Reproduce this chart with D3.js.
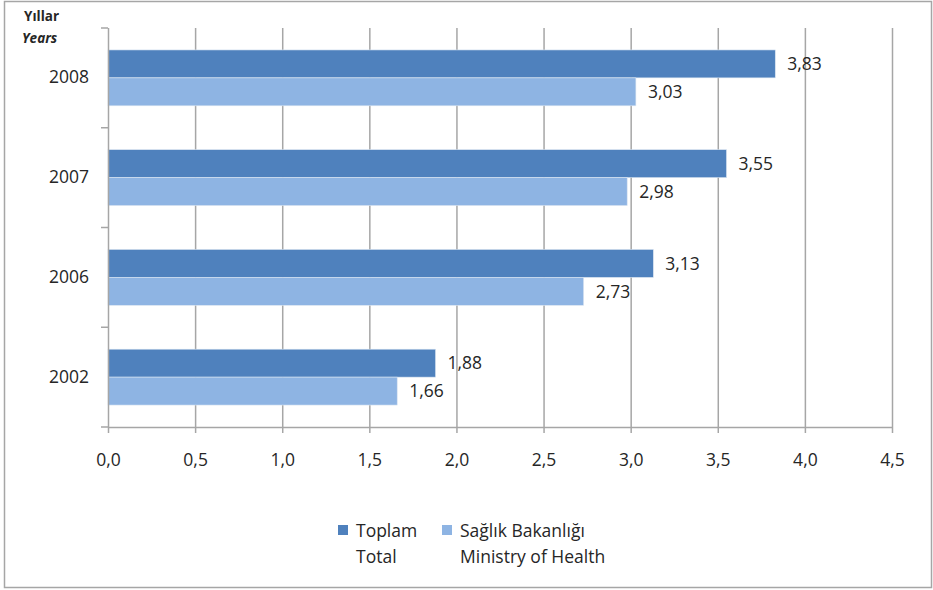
<!DOCTYPE html>
<html><head><meta charset="utf-8">
<script src="https://cdn.jsdelivr.net/npm/d3@7"></script>
<style>body{margin:0;background:#fff}text{font-family:"Open Sans",sans-serif;fill:#262626}</style>
</head><body><svg id="c" width="933" height="590"></svg>
<script>
const years = ["2008","2007","2006","2002"];
const toplam = [3.83,3.55,3.13,1.88];
const saglik = [3.03,2.98,2.73,1.66];
const xTicks = [0,0.5,1,1.5,2,2.5,3,3.5,4,4.5];
const seriesNames = [["Toplam","Total"],["Sağlık Bakanlığı","Ministry of Health"]];
const colors = ["#4f81bd","#8eb4e3"];
const FONT = "'Open Sans',sans-serif";
const FS = 17.5;

const svg = d3.select("#c");
svg.append("rect").attr("x",4.5).attr("y",1.5).attr("width",927).attr("height",586)
  .attr("fill","#fff").attr("stroke","#a6a6a6").attr("stroke-width",1.5);

const L=108,R=892,T=28,B=427;
const x = d3.scaleLinear().domain([0,4.5]).range([L,R]);
const y = d3.scaleBand().domain(years).range([T,B]);
const inner = d3.scaleBand().domain([0,1]).range([y.bandwidth()*0.22,y.bandwidth()*0.78]);
const fmt = v => d3.format(".2f")(v).replace(".",",");

// gridlines
svg.append("g").selectAll("line").data(xTicks.slice(1)).join("line")
  .attr("x1",d=>x(d)+0.5).attr("x2",d=>x(d)+0.5).attr("y1",T).attr("y2",B)
  .attr("stroke","#a6a6a6").attr("stroke-width",1.5);

// bars
const series=[toplam,saglik];
series.forEach((vals,si)=>{
  const g=svg.append("g");
  g.selectAll("rect").data(years).join("rect")
    .attr("x",x(0)).attr("y",d=>y(d)+inner(si))
    .attr("width",(d,i)=>x(vals[i])-x(0)).attr("height",inner.bandwidth())
    .attr("fill",colors[si]).attr("stroke","#dbe5f1").attr("stroke-width",0.6);
  g.selectAll("text").data(years).join("text")
    .attr("x",(d,i)=>x(vals[i])+12).attr("y",d=>y(d)+inner(si)+inner.bandwidth()/2)
    .attr("dy","0.36em").attr("font-size",FS).text((d,i)=>fmt(vals[i]));
});

// x axis
const xa = svg.append("g").attr("transform",`translate(0,${B})`)
  .call(d3.axisBottom(x).tickValues(xTicks).tickSize(6).tickPadding(21).tickFormat(d=>d3.format(".1f")(d).replace(".",",")));
xa.select(".domain").attr("stroke","#a6a6a6").attr("stroke-width",1.5).attr("d",`M${L},0.5H${R}`);
xa.selectAll("line").attr("stroke","#a6a6a6").attr("stroke-width",1.5);
xa.selectAll("text").attr("font-size",FS).attr("fill","#262626").attr("font-family",FONT);

// y axis
const ya = svg.append("g").attr("transform",`translate(${L},0)`)
  .call(d3.axisLeft(y).tickSize(0).tickPadding(19));
ya.select(".domain").attr("stroke","#a6a6a6").attr("stroke-width",1.5).attr("d",`M0.5,${T}V${B}`);
ya.selectAll("text").attr("font-size",FS).attr("fill","#262626").attr("font-family",FONT);
svg.append("g").selectAll("line").data(d3.range(years.length+1)).join("line")
  .attr("x1",L-7).attr("x2",L).attr("y1",i=>T+i*y.step()).attr("y2",i=>T+i*y.step())
  .attr("stroke","#a6a6a6").attr("stroke-width",1.5);

// axis title
svg.append("text").attr("x",24).attr("y",21).attr("font-size",13.5).attr("font-weight","bold").text("Yıllar");
svg.append("text").attr("x",22).attr("y",43).attr("font-size",13.5).attr("font-weight","bold").attr("font-style","italic").text("Years");

// legend
const lx=[338,442];
seriesNames.forEach((nm,i)=>{
  svg.append("rect").attr("x",lx[i]).attr("y",525).attr("width",10).attr("height",10).attr("fill",colors[i]);
  svg.append("text").attr("x",lx[i]+18).attr("y",537).attr("font-size",FS).text(nm[0]);
  svg.append("text").attr("x",lx[i]+18).attr("y",563).attr("font-size",FS).text(nm[1]);
});
</script></body></html>
